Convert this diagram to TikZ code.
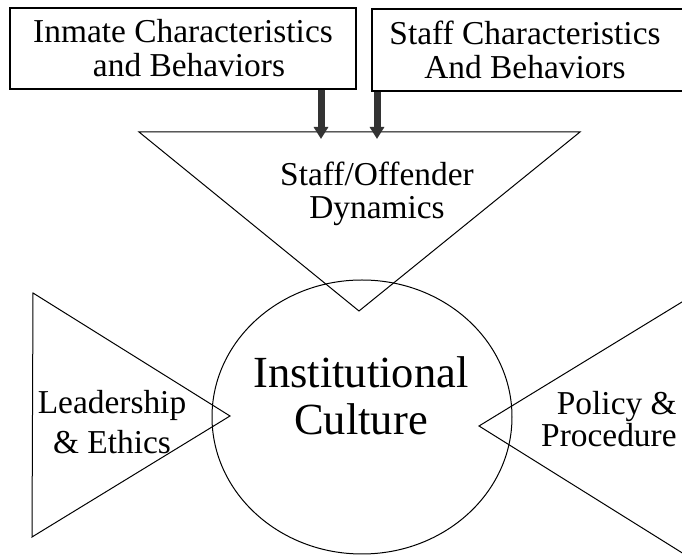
\documentclass[tikz,border=0pt]{standalone}
\usepackage{fontspec}
\setmainfont{Liberation Serif}
\usetikzlibrary{arrows.meta,shapes.geometric}

\tikzset{
  box/.style={draw, line width=0.7pt, align=center, font=\fontsize{16.7}{17}\selectfont},
  txt/.style={inner sep=0pt, align=center, font=\fontsize{16.7}{16.5}\selectfont},
  flow/.style={line width=3.5pt, draw=black!80, -{Triangle[width=7pt,length=6pt]}},
  thin line/.style={line width=0.5pt}
}

\begin{document}
\begin{tikzpicture}[x=0.5pt, y=-0.5pt]
	\useasboundingbox (0,0) rectangle (682,555);
		% boxes at the top
		\node[box, minimum width=173pt, minimum height=40.5pt] (inmate) at (183,48.5) {Inmate Characteristics\\\hspace{6pt}and Behaviors};
		\node[box, minimum width=180pt, minimum height=41pt] (staff) at (552,50) {\hspace*{-27pt}Staff Characteristics\\\hspace*{-27pt}And Behaviors};
		% triangles
		\coordinate (dl) at (139,132);
		\coordinate (dr) at (580,132);
		\coordinate (dtip) at (359,311);
		\draw[thin line] (dl) -- (dr) -- (dtip) -- cycle;
		\coordinate (ltop) at (33,293);
		\coordinate (lbot) at (32,537);
		\coordinate (ltip) at (230,416);
		\draw[thin line] (ltop) -- (ltip) -- (lbot) -- cycle;
		\coordinate (rtop) at (700,291);
		\coordinate (rbot) at (700,564);
		\coordinate (rtip) at (479,426);
		\draw[thin line] (rtop) -- (rtip) -- (rbot);
		% circle
		\node[draw, thin line, ellipse, minimum width=150pt, minimum height=137pt, inner sep=0pt] (culture) at (362,417) {};
		% texts
		\node[txt] (dynamics) at (377,194) {Staff/Offender\\Dynamics};
		\node[txt, font=\fontsize{22.25}{23.5}\selectfont] (culturetext) at (361,396) {Institutional\\Culture};
		\node[txt, font=\fontsize{16.7}{20}\selectfont] (leader) at (112,422) {Leadership\\\& Ethics};
		\node[txt, align=right, anchor=east, font=\fontsize{16.7}{15}\selectfont] (policy) at (677,419) {Policy \&\\Procedure};
		% arrows
		\coordinate (a1) at (321,139);
		\coordinate (a2) at (377,139);
		\draw[flow] (inmate.south -| a1) -- (a1);
		\draw[flow] (staff.south -| a2) -- (a2);
	\end{tikzpicture}
\end{document}
